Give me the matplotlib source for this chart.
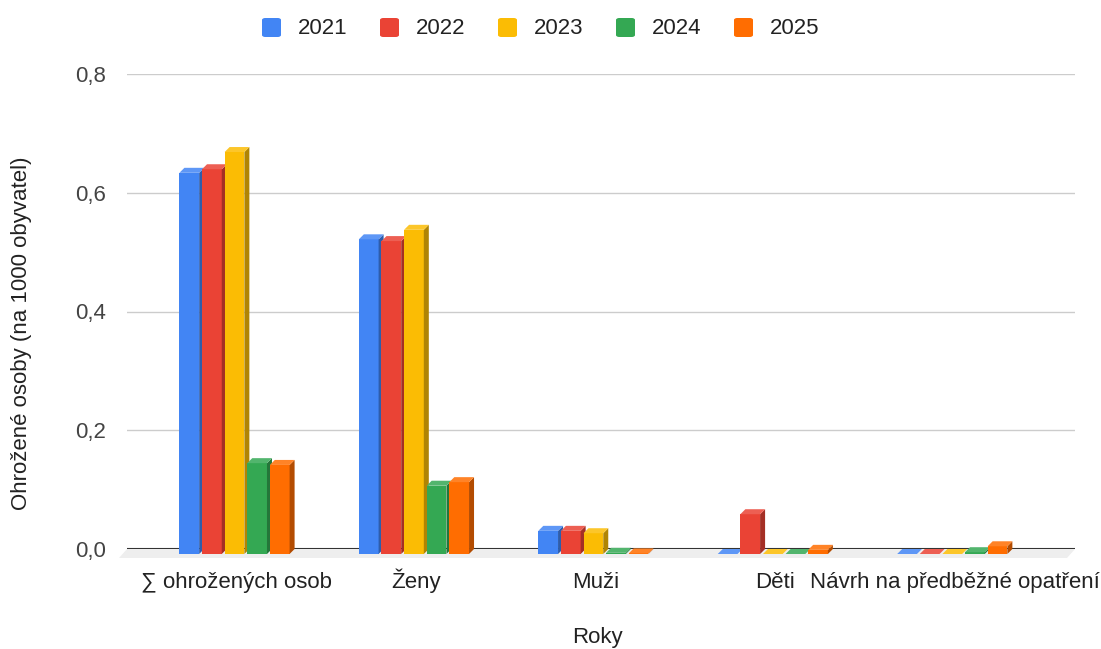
import numpy as np
import matplotlib.pyplot as plt
from matplotlib.patches import Polygon, FancyBboxPatch
from matplotlib.colors import to_rgb

plt.rcParams['font.family'] = ['Liberation Sans', 'DejaVu Sans']

# ── Data ──────────────────────────────────────
categories = ["∑ ohrožených osob", "Ženy", "Muži", "Děti", "Návrh na předběžné opatření"]
years      = ["2021", "2022", "2023", "2024", "2025"]
v2021 = [0.642, 0.530, 0.039, 0.000, 0.000]
v2022 = [0.648, 0.527, 0.039, 0.067, 0.000]
v2023 = [0.677, 0.546, 0.035, 0.000, 0.000]
v2024 = [0.153, 0.115, 0.002, 0.000, 0.003]
v2025 = [0.150, 0.121, 0.001, 0.007, 0.013]
series = [v2021, v2022, v2023, v2024, v2025]
colors = ["#4285F4", "#EA4335", "#FBBC04", "#34A853", "#FF6D01"]

FS = 16
TXT = "#222222"

def shade(c, f):
    r = np.array(to_rgb(c))
    return tuple(np.clip(r * f, 0, 1)) if f < 1 else tuple(r + (1 - r) * (f - 1))

# ── Figure ────────────────────────────────────
W, H = 1101, 649
fig = plt.figure(figsize=(W / 100, H / 100), dpi=100)
ax = fig.add_axes([127 / W, 1 - 549 / H, (1075 - 127) / W, (549 - 74) / H])
x0, x1 = -0.613, 4.67
ax.set_xlim(x0, x1)
ax.set_ylim(0, 0.8)

# pixel -> data conversion for the fake 3D depth
px_x = (x1 - x0) / (1075 - 127)
px_y = 0.8 / (549 - 74)
dx, dy = 5 * px_x, 5 * px_y

# floor
fl = [(x0, 0), (x1, 0), (x1 - 8 * px_x, -9 * px_y), (x0 - 8 * px_x, -9 * px_y)]
ax.add_patch(Polygon(fl, closed=True, facecolor="#eeeeee", edgecolor="none",
                     clip_on=False, zorder=1))

# grid
for yv in [0.2, 0.4, 0.6, 0.8]:
    ax.axhline(yv, color="#cccccc", linewidth=1, zorder=0)
ax.axhline(0, color="#333333", linewidth=1.5, zorder=1.5)

# bars (front face + side + top)
x = np.arange(len(categories))
pitch = 0.126
w = 0.11
for i, (vals, c) in enumerate(zip(series, colors)):
    xs = x - 2 * pitch + i * pitch - w / 2 - dx / 2
    ax.bar(xs, vals, width=w, bottom=-dy, align="edge", color=c,
           edgecolor="none", clip_on=False, zorder=3)
    for xl, h in zip(xs, vals):
        top = [(xl, h - dy), (xl + w, h - dy), (xl + w + dx, h), (xl + dx, h)]
        side = [(xl + w, -dy), (xl + w + dx, 0), (xl + w + dx, h), (xl + w, h - dy)]
        ax.add_patch(Polygon(side, closed=True, facecolor=shade(c, 0.7),
                             edgecolor="none", clip_on=False, zorder=3))
        ax.add_patch(Polygon(top, closed=True, facecolor=shade(c, 1.15),
                             edgecolor="none", clip_on=False, zorder=3))

# axes styling
for s in ax.spines.values():
    s.set_visible(False)
ax.set_xticks(x)
ax.set_xticklabels(categories, fontsize=FS, color=TXT)
for lab in ax.get_xticklabels():
    lab.set_verticalalignment("baseline")
ax.set_yticks([0, 0.2, 0.4, 0.6, 0.8])
ax.set_yticklabels(["0,0", "0,2", "0,4", "0,6", "0,8"], fontsize=FS, color="#444444")
ax.tick_params(axis="x", length=0, pad=28)
ax.tick_params(axis="y", length=0, pad=15)

fig.text(597 / W, 1 - 643 / H, "Roky", fontsize=FS, color=TXT, ha="center", va="baseline")
fig.text(22 / W, 1 - 333 / H, "Ohrožené osoby (na 1000 obyvatel)", fontsize=FS,
         color=TXT, rotation=90, ha="center", va="center")

# legend (drawn by hand to match spacing)
for i, (yr, c) in enumerate(zip(years, colors)):
    lx = 262 + 118 * i
    fig.add_artist(FancyBboxPatch((lx / W, 1 - 37 / H), 19 / W, 19 / H,
                                  boxstyle="round,pad=0,rounding_size=0.003",
                                  transform=fig.transFigure, facecolor=c, edgecolor="none"))
    fig.text((lx + 36) / W, 1 - 28 / H, yr, fontsize=FS, color=TXT, ha="left", va="center")

plt.savefig("out.png", dpi=100)
